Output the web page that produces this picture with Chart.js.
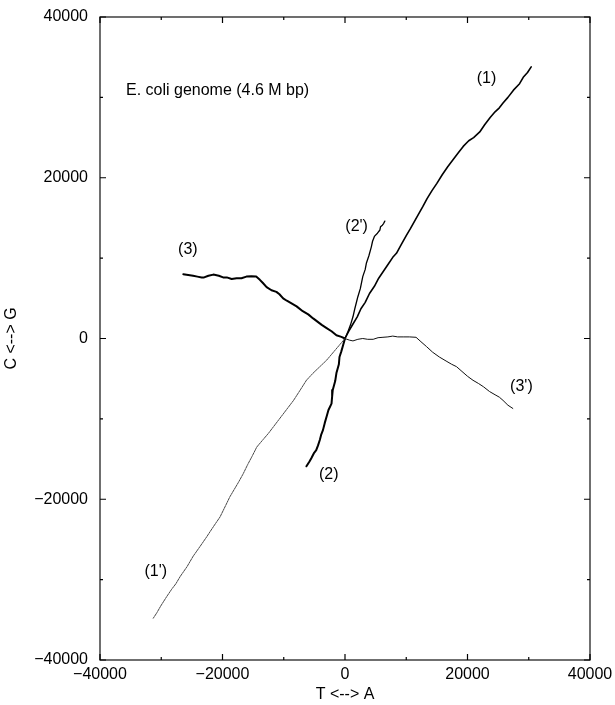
<!DOCTYPE html>
<html>
<head>
<meta charset="utf-8">
<title>E. coli genome walk</title>
<script src="https://cdn.jsdelivr.net/npm/chart.js@4.4.1/dist/chart.umd.min.js"></script>
<style>
  html, body { margin: 0; padding: 0; background: #ffffff; }
  #plot { display: block; }
</style>
</head>
<body>
<canvas id="plot" width="615" height="705"></canvas>
<script>
// Cumulative nucleotide walks: x = A minus T count, y = G minus C count.
// Each walk starts at the origin and runs outward.

// (1): thick walk to the upper right
const walk1X = [0, 600, 1300, 2000, 2600, 3300, 4000, 4800, 5500, 6300, 7100, 7800, 8400, 9200, 10000, 10700, 11500, 12100, 12700, 13400, 14200, 15000, 15900, 16800, 17600, 18500, 19300, 20200, 21000, 22000, 22800, 23700, 24500, 25200, 25800, 26600, 27500, 28500, 29100, 29800, 30400];
const walk1Y = [0, 900, 1800, 2700, 3700, 4500, 5600, 6500, 7500, 8400, 9300, 10100, 10600, 11700, 12800, 13700, 14800, 15600, 16400, 17400, 18400, 19300, 20400, 21400, 22200, 23100, 23900, 24600, 25000, 25700, 26600, 27500, 28200, 28700, 29300, 30000, 30900, 31700, 32500, 33100, 33800];

// (1'): thin walk to the lower left
const walk1pX = [0, -1000, -2000, -3000, -4100, -5200, -6300, -7300, -8400, -9600, -10600, -11700, -12500, -13400, -14400, -15200, -15900, -16600, -17400, -18100, -18800, -19500, -20400, -21300, -22000, -22600, -23600, -24800, -25800, -26900, -27600, -28300, -29100, -30100, -30700, -31300];
const walk1pY = [0, -900, -1800, -2700, -3500, -4300, -5200, -6400, -7700, -8900, -9900, -11000, -11800, -12600, -13500, -14700, -15700, -16800, -17900, -18800, -19700, -20800, -22200, -23200, -24000, -24700, -25800, -27100, -28400, -29600, -30500, -31200, -32100, -33300, -34100, -34800];

// (2): thick walk heading down
const walk2X = [0, -300, -600, -900, -1000, -1400, -1600, -2000, -2100, -2200, -2700, -3000, -3300, -3600, -3900, -4100, -4400, -4700, -5100, -5500, -5800, -6300];
const walk2Y = [0, -800, -1600, -2300, -3200, -4300, -5300, -6400, -7200, -8100, -8900, -9700, -10500, -11400, -12000, -12600, -13300, -13900, -14300, -14900, -15300, -15900];

// (2'): medium walk heading up
const walk2pX = [0, 400, 900, 1300, 1600, 1900, 2100, 2500, 2900, 3300, 3500, 3900, 4300, 4500, 4800, 5300, 5700, 5800, 6100, 6300, 6500];
const walk2pY = [0, 700, 1700, 2700, 3700, 4600, 5200, 6200, 7700, 8600, 9400, 10300, 11400, 12100, 12700, 13100, 13500, 13900, 14100, 14300, 14600];

// (3): thick walk to the upper left
const walk3X = [0, -600, -1400, -2200, -3000, -3800, -4500, -5200, -6000, -6900, -7900, -8800, -9500, -10100, -10700, -11200, -12000, -12800, -13400, -13900, -14500, -15300, -16100, -16900, -17700, -18500, -19300, -19900, -20600, -21500, -22300, -23000, -23400, -24100, -24800, -25600, -26400];
const walk3Y = [0, 200, 400, 900, 1300, 1700, 2100, 2500, 3000, 3400, 4000, 4400, 4700, 5000, 5500, 5800, 6000, 6400, 6900, 7300, 7700, 7750, 7700, 7500, 7500, 7400, 7600, 7600, 7800, 7950, 7800, 7600, 7600, 7700, 7800, 7900, 8000];

// (3'): thin walk to the right, then down
const walk3pX = [0, 700, 1300, 2100, 2900, 3700, 4600, 5400, 6200, 7000, 7800, 8600, 9500, 10500, 11600, 12400, 13300, 14300, 15400, 16500, 17400, 18200, 19100, 20000, 20900, 21800, 22600, 23600, 24500, 25200, 25800, 26600, 27400];
const walk3pY = [0, -200, -300, -100, 0, -100, -100, 100, 150, 200, 300, 200, 200, 200, 150, -400, -1000, -1700, -2300, -2800, -3200, -3500, -4100, -4700, -5200, -5600, -6000, -6600, -7000, -7300, -7700, -8300, -8700];

// Axis ticks
const majorTicks = [-40000, -20000, 0, 20000, 40000];
const minorTicks = [-30000, -10000, 10000, 30000];

// Curve labels and the caption, placed in data coordinates
const noteTexts = ['(1)', "(1')", '(2)', "(2')", '(3)', "(3')"];
const noteX = [23100, -30900, -2650, 1900, -25650, 28800];
const noteY = [32300, -29050, -16980, 13870, 11000, -6030];
const captionText = 'E. coli genome (4.6 M bp)';
const captionX = -35760;
const captionY = 30800;

const FONT_FAMILY = '"Liberation Sans", Arial, Helvetica, sans-serif';
const TEXT_FONT = { family: FONT_FAMILY, size: 16 };

function toPoints(xs, ys) {
  return xs.map((x, i) => ({ x: x, y: ys[i] }));
}

function fmtTick(v) {
  return v < 0 ? '\u2212' + Math.abs(v) : String(v);
}

function walk(label, xs, ys, width, color, dash) {
  return {
    label: label,
    data: toPoints(xs, ys),
    showLine: true,
    fill: false,
    tension: 0,
    borderColor: color,
    borderWidth: width,
    borderDash: dash || [],
    borderJoinStyle: 'round',
    borderCapStyle: 'round',
    pointRadius: 0,
    pointHoverRadius: 0
  };
}

// Box frame with inward ticks on all four sides
const framePlugin = {
  id: 'frame',
  afterDraw(chart) {
    const { ctx, chartArea: a, scales } = chart;
    const sx = scales.x, sy = scales.y;
    ctx.save();
    ctx.strokeStyle = '#222';
    ctx.lineWidth = 1.3;
    ctx.strokeRect(a.left, a.top, a.right - a.left, a.bottom - a.top);
    ctx.lineWidth = 1.2;
    ctx.strokeStyle = '#000';
    const drawSet = (vals, len) => {
      vals.forEach(v => {
        const px = sx.getPixelForValue(v);
        const py = sy.getPixelForValue(v);
        ctx.beginPath();
        ctx.moveTo(px, a.bottom); ctx.lineTo(px, a.bottom - len);
        ctx.moveTo(px, a.top); ctx.lineTo(px, a.top + len);
        ctx.moveTo(a.left, py); ctx.lineTo(a.left + len, py);
        ctx.moveTo(a.right, py); ctx.lineTo(a.right - len, py);
        ctx.stroke();
      });
    };
    drawSet(majorTicks, 6);
    drawSet(minorTicks, 3);
    ctx.restore();
  }
};

// Curve labels and caption
const notesPlugin = {
  id: 'notes',
  afterDatasetsDraw(chart) {
    const { ctx, scales } = chart;
    const sx = scales.x, sy = scales.y;
    ctx.save();
    ctx.fillStyle = '#000';
    ctx.font = TEXT_FONT.size + 'px ' + FONT_FAMILY;
    ctx.textBaseline = 'middle';
    ctx.textAlign = 'center';
    noteTexts.forEach((t, i) => {
      ctx.fillText(t, sx.getPixelForValue(noteX[i]), sy.getPixelForValue(noteY[i]));
    });
    ctx.textAlign = 'left';
    ctx.fillText(captionText, sx.getPixelForValue(captionX), sy.getPixelForValue(captionY));
    ctx.restore();
  }
};

new Chart(document.getElementById('plot'), {
  type: 'scatter',
  data: {
    datasets: [
      walk("(1')", walk1pX, walk1pY, 0.9, '#333', [2, 1]),
      walk("(3')", walk3pX, walk3pY, 1.0, '#111'),
      walk("(2')", walk2pX, walk2pY, 1.3, '#000'),
      walk('(1)', walk1X, walk1Y, 1.6, '#000'),
      walk('(2)', walk2X, walk2Y, 2.0, '#000'),
      walk('(3)', walk3X, walk3Y, 2.0, '#000')
    ]
  },
  options: {
    responsive: false,
    animation: false,
    events: [],
    layout: { padding: { left: 0, top: 17, right: 25, bottom: 0 } },
    plugins: {
      legend: { display: false },
      tooltip: { enabled: false }
    },
    scales: {
      x: {
        type: 'linear',
        min: -40000,
        max: 40000,
        afterBuildTicks(axis) { axis.ticks = majorTicks.map(v => ({ value: v })); },
        afterFit(axis) { axis.height = 45; axis.paddingLeft = 0; axis.paddingRight = 0; },
        grid: { display: false, drawTicks: false },
        border: { display: false },
        ticks: {
          callback: fmtTick,
          font: TEXT_FONT,
          color: '#000',
          padding: 5,
          maxRotation: 0,
          autoSkip: false
        },
        title: {
          display: true,
          text: 'T <--> A',
          font: TEXT_FONT,
          color: '#000',
          padding: { top: 0, bottom: 1 }
        }
      },
      y: {
        type: 'linear',
        min: -40000,
        max: 40000,
        afterBuildTicks(axis) { axis.ticks = majorTicks.map(v => ({ value: v })); },
        afterFit(axis) { axis.width = 100; axis.paddingTop = 0; axis.paddingBottom = 0; },
        grid: { display: false, drawTicks: false },
        border: { display: false },
        ticks: {
          callback: fmtTick,
          font: TEXT_FONT,
          color: '#000',
          padding: 12,
          autoSkip: false
        },
        title: {
          display: true,
          text: 'C <--> G',
          font: TEXT_FONT,
          color: '#000',
          padding: { top: 2, bottom: 0 }
        }
      }
    }
  },
  plugins: [framePlugin, notesPlugin]
});
</script>
</body>
</html>
